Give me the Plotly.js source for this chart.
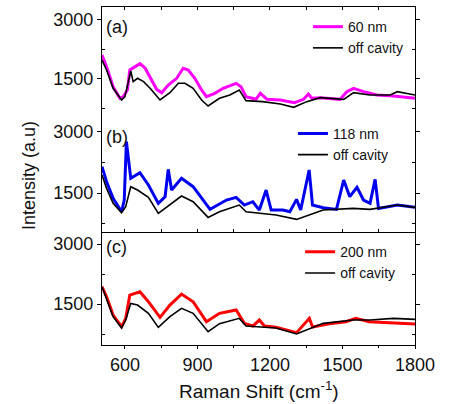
<!DOCTYPE html>
<html>
<head>
<meta charset="utf-8">
<script src="https://cdn.plot.ly/plotly-3.0.1.min.js"></script>
<style>html,body{margin:0;padding:0;background:#fff;}#chart{width:469px;height:404px;}</style>
</head>
<body>
<div id="chart"></div>
<script>
// Panel (a)
const xA60 = [505,524,551,579,593,610,620,641,662,683,710,731,752,779,814,841,862,889,917,937,972,1006,1060,1080,1101,1142,1160,1188,1243,1301,1339,1359,1373,1408,1490,1518,1546,1587,1642,1711,1800];
const yA60 = [2110,1813,1305,1009,1051,1220,1729,1813,1890,1780,1475,1237,1152,1347,1517,1772,1729,1517,1220,1051,1136,1263,1390,1305,1051,983,1136,983,966,898,983,1118,1009,1025,983,1178,1263,1178,1093,1068,1009];
const xAoff = [505,524,551,586,600,624,634,652,677,704,745,786,821,848,882,917,944,991,1034,1073,1101,1169,1243,1298,1352,1408,1505,1546,1613,1697,1727,1800];
const yAoff = [1983,1729,1263,966,1051,1703,1432,1517,1432,1263,966,1152,1390,1390,1263,966,814,1009,1093,1220,949,924,864,780,924,1025,983,1152,1093,1093,1178,1093];
// Panel (b)
const xB118 = [505,524,551,586,597,606,624,662,697,738,766,779,793,834,882,952,1020,1060,1094,1129,1156,1184,1205,1253,1282,1310,1327,1362,1376,1420,1475,1505,1530,1560,1587,1614,1635,1649,1727,1800];
const yB118 = [2147,1778,1369,1040,1328,2762,1861,2000,1697,1247,1410,2082,1574,1861,1656,1099,1328,1394,1205,1287,1082,1574,1082,1082,1041,1345,1082,2066,1205,1140,1099,1820,1410,1640,1328,1247,1837,1123,1205,1148];
const xBoff = [505,524,551,586,603,624,652,697,738,786,834,882,944,991,1073,1101,1225,1310,1420,1544,1614,1727,1800];
const yBoff = [1943,1615,1247,1016,1164,1656,1574,1394,1000,1205,1426,1287,902,1041,1205,1041,959,853,1082,1123,1099,1205,1148];
// Panel (c)
const xC200 = [505,524,551,586,603,620,662,697,745,786,834,882,937,991,1060,1094,1129,1156,1177,1225,1310,1363,1376,1445,1514,1555,1610,1694,1800];
const yC200 = [1933,1683,1225,933,1142,1725,1808,1558,1167,1475,1750,1558,1058,1267,1350,1017,950,1100,950,917,783,1142,925,1008,1058,1142,1058,1033,1000];
const xCoff = [505,524,551,586,603,624,652,697,738,786,834,882,944,991,1073,1101,1225,1310,1420,1544,1614,1711,1800];
const yCoff = [1933,1600,1183,900,1100,1517,1475,1267,917,1183,1392,1267,808,1008,1142,950,900,750,1017,1100,1100,1142,1117];

const yTickVals = [1500, 3000];
const yTickText = ['1500', '3000'];
const xTickVals = [600, 900, 1200, 1500, 1800];
const seriesNames = ['60 nm', '118 nm', '200 nm', 'off cavity'];
const panelLabels = ['(a)', '(b)', '(c)'];

const FONT = 'Liberation Sans, Arial, sans-serif';
const lw = 3, lwBlack = 1.6;

const traces = [
  {x: xA60, y: yA60, name: seriesNames[0], xaxis: 'x3', yaxis: 'y3', legend: 'legend', mode: 'lines', line: {color: '#ff00ff', width: lw}},
  {x: xAoff, y: yAoff, name: seriesNames[3], xaxis: 'x3', yaxis: 'y3', legend: 'legend', mode: 'lines', line: {color: '#000000', width: lwBlack}},
  {x: xB118, y: yB118, name: seriesNames[1], xaxis: 'x2', yaxis: 'y2', legend: 'legend2', mode: 'lines', line: {color: '#0000ee', width: lw}},
  {x: xBoff, y: yBoff, name: seriesNames[3], xaxis: 'x2', yaxis: 'y2', legend: 'legend2', mode: 'lines', line: {color: '#000000', width: lwBlack}},
  {x: xC200, y: yC200, name: seriesNames[2], xaxis: 'x', yaxis: 'y', legend: 'legend3', mode: 'lines', line: {color: '#ff0000', width: lw}},
  {x: xCoff, y: yCoff, name: seriesNames[3], xaxis: 'x', yaxis: 'y', legend: 'legend3', mode: 'lines', line: {color: '#000000', width: lwBlack}}
];

function yax(dom, rng) {
  return {
    domain: dom, range: rng, tickvals: yTickVals, ticktext: yTickText,
    showline: true, linecolor: '#000', linewidth: 1.2, mirror: 'ticks',
    ticks: 'outside', ticklen: 4, tickcolor: '#000',
    minor: {tickvals: [750, 2250], ticks: 'inside', ticklen: 3, tickcolor: '#000'},
    showgrid: false, zeroline: false,
    tickfont: {family: FONT, size: 18, color: '#111'}
  };
}
function xbase() {
  return {
    range: [505, 1800], tickvals: xTickVals, showgrid: false, zeroline: false,
    showline: true, linecolor: '#000', linewidth: 1.2, tickcolor: '#000',
    tickfont: {family: FONT, size: 18, color: '#111'}
  };
}
const xaxis = Object.assign(xbase(), {anchor: 'y', ticks: 'outside', ticklen: 3,
  minor: {dtick: 150, tick0: 600, ticks: 'outside', ticklen: 2, tickcolor: '#000'}});
const xaxis2 = Object.assign(xbase(), {anchor: 'y2', matches: 'x', showticklabels: false, ticks: 'inside', ticklen: 3,
  minor: {dtick: 150, tick0: 600, ticks: 'inside', ticklen: 3, tickcolor: '#000'}});
const xaxis3 = Object.assign(xbase(), {anchor: 'y3', matches: 'x', side: 'top', showticklabels: false, ticks: 'inside', ticklen: 3,
  minor: {dtick: 150, tick0: 600, ticks: 'inside', ticklen: 3, tickcolor: '#000'}});

function leg(x, y) {
  return {x: x, y: y, xanchor: 'left', yanchor: 'top', bgcolor: 'rgba(0,0,0,0)',
    font: {family: FONT, size: 14, color: '#111'}, tracegroupgap: 0, itemwidth: 30};
}

const layout = {
  width: 469, height: 404,
  margin: {l: 102, r: 54, t: 7, b: 59},
  paper_bgcolor: '#fff', plot_bgcolor: '#fff',
  showlegend: true,
  xaxis: xaxis, xaxis2: xaxis2, xaxis3: xaxis3,
  yaxis: yax([0, 0.334], [475, 3300]),
  yaxis2: yax([0.334, 0.666], [541, 3295]),
  yaxis3: yax([0.666, 1], [460, 3330]),
  legend: leg(0.658, 0.988),
  legend2: leg(0.61, 0.672),
  legend3: leg(0.633, 0.322),
  annotations: [
    {text: panelLabels[0], xref: 'paper', yref: 'paper', x: 0.005, y: 1 - (27 - 7) / 338, xanchor: 'left', yanchor: 'middle', showarrow: false, font: {family: FONT, size: 18, color: '#111'}},
    {text: panelLabels[1], xref: 'paper', yref: 'paper', x: 0.005, y: 1 - (137 - 7) / 338, xanchor: 'left', yanchor: 'middle', showarrow: false, font: {family: FONT, size: 18, color: '#111'}},
    {text: panelLabels[2], xref: 'paper', yref: 'paper', x: 0.005, y: 1 - (247 - 7) / 338, xanchor: 'left', yanchor: 'middle', showarrow: false, font: {family: FONT, size: 18, color: '#111'}},
    {text: 'Raman Shift (cm<sup>-1</sup>)', xref: 'paper', yref: 'paper', x: 0.5, y: -(390 - 345) / 338, xanchor: 'center', yanchor: 'middle', showarrow: false, font: {family: FONT, size: 19, color: '#111'}},
    {text: 'Intensity (a.u)', xref: 'paper', yref: 'paper', x: (29 - 102) / 313, y: 0.5, xanchor: 'center', yanchor: 'middle', textangle: -90, showarrow: false, font: {family: FONT, size: 18, color: '#111'}}
  ]
};

Plotly.newPlot('chart', traces, layout, {displayModeBar: false, staticPlot: true});
</script>
</body>
</html>
